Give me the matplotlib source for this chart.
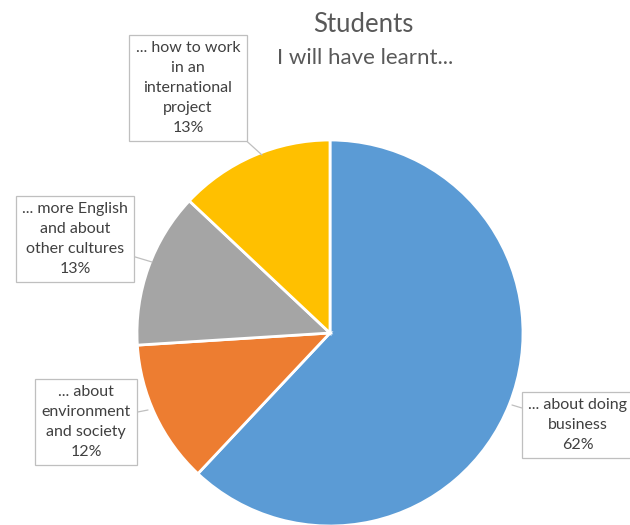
import matplotlib.pyplot as plt

# pie data (clockwise from 12 o'clock)
labels = ["... about doing\nbusiness", "... about\nenvironment\nand society",
          "... more English\nand about\nother cultures", "... how to work\nin an\ninternational\nproject"]
values = [62, 12, 13, 13]
colors = ["#5B9BD5", "#ED7D31", "#A5A5A5", "#FFC000"]

plt.rcParams['font.family'] = ['Lato', 'DejaVu Sans']

W, H = 630, 525
cx, cy, r = 330, 333, 193

fig = plt.figure(figsize=(W / 100, H / 100), dpi=100)
ax = fig.add_axes([(cx - r) / W, (H - cy - r) / H, 2 * r / W, 2 * r / H])
ax.pie(values, colors=colors, startangle=90, counterclock=False,
       wedgeprops=dict(edgecolor="white", linewidth=2))
ax.set_xlim(-1, 1)
ax.set_ylim(-1, 1)
ax.set_aspect("equal")
ax.axis("off")


def px(x, y):
    return ((x - cx) / r, (cy - y) / r)


# label box centres and pointer targets, in pixels
boxes = [(578, 425), (86, 422), (75, 239), (188, 88)]
tips = [(512, 405), (148, 410), (152, 262), (262, 155)]

for lab, v, b, t in zip(labels, values, boxes, tips):
    ax.annotate(lab + "\n%d%%" % v, xy=px(*t), xytext=px(*b),
                ha="center", va="center", fontsize=11.5, color="#404040",
                linespacing=1.55, annotation_clip=False,
                bbox=dict(boxstyle="square,pad=0.4", fc="white", ec="#BFBFBF", lw=0.9),
                arrowprops=dict(arrowstyle="-", color="#BFBFBF", lw=0.9,
                                shrinkA=0, shrinkB=0))

fig.text(363 / W, 1 - 25 / H, "Students", ha="center", va="center",
         fontsize=18.5, color="#595959")
fig.text(365 / W, 1 - 58 / H, "I will have learnt...", ha="center", va="center",
         fontsize=16, color="#595959")

fig.savefig("out.png", dpi=100)
